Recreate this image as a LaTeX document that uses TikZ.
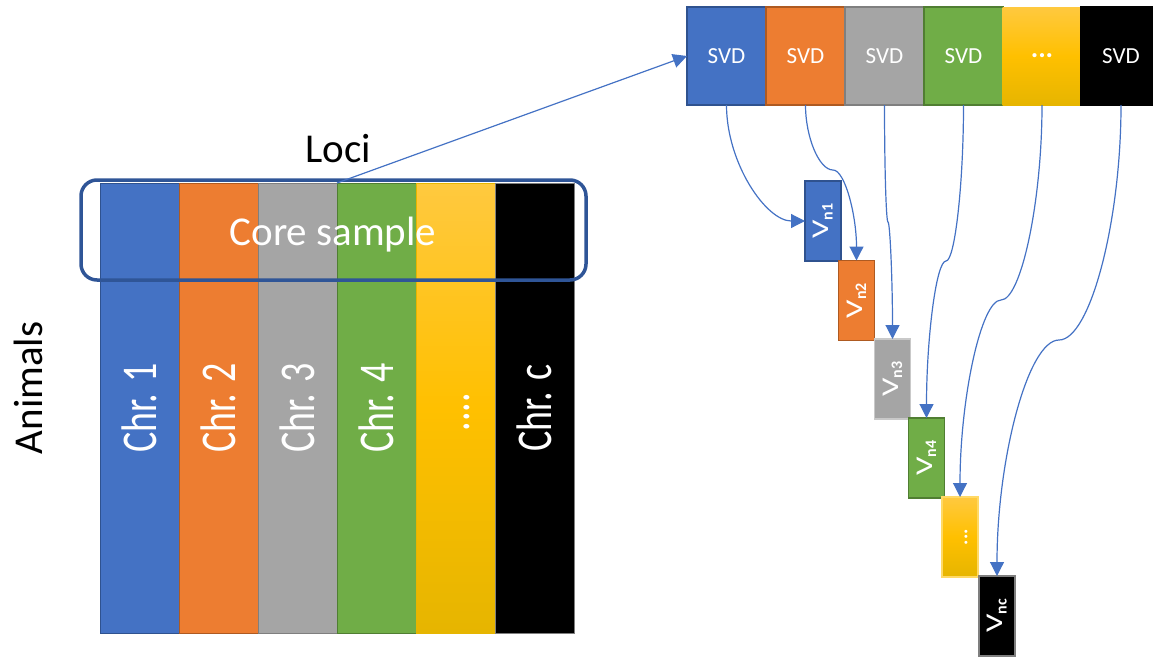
\documentclass[tikz,border=0pt]{standalone}
\usepackage{fontspec}
\setmainfont{Carlito}
\usetikzlibrary{arrows.meta}
\definecolor{cblue}{HTML}{4472C4}
\definecolor{cblueD}{HTML}{2F528F}
\definecolor{corange}{HTML}{ED7D31}
\definecolor{corangeD}{HTML}{AE5A21}
\definecolor{cgray}{HTML}{A5A5A5}
\definecolor{cgrayD}{HTML}{7F7F7F}
\definecolor{cgrayL}{HTML}{C9C9C9}
\definecolor{cgreen}{HTML}{70AD47}
\definecolor{cgreenD}{HTML}{507E32}
\definecolor{cgold}{HTML}{FFC000}
\definecolor{cgoldT}{HTML}{FFC93F}
\definecolor{cgoldB}{HTML}{E6B500}
\definecolor{cgoldL}{HTML}{FFD966}
\definecolor{coreblue}{HTML}{2F5597}
\definecolor{arrblue}{HTML}{4472C4}
\begin{document}
\begin{tikzpicture}[x=1pt,y=-1pt,
  box/.style={draw, line width=1pt, inner sep=0pt, outer sep=0pt, rectangle},
  col/.style={box, minimum width=79pt, minimum height=450pt},
  goldfill/.style={top color=cgoldT, bottom color=cgoldB, middle color=cgold},
  svd/.style={box, line width=2.5pt, minimum width=79pt, minimum height=98pt, text=white, font=\fontsize{23}{23}\selectfont},
  vbox/.style={box, line width=1.5pt, minimum width=36pt, minimum height=80pt},
  vlab/.style={rotate=90, text=white, inner sep=0pt, font=\fontsize{24}{24}\selectfont},
  chr/.style={rotate=90, anchor=base, text=white, inner sep=0pt, font=\fontsize{40}{40}\selectfont},
  big/.style={inner sep=0pt, font=\fontsize{41}{41}\selectfont},
  arr/.style={draw=arrblue, line width=1.2pt, -{Triangle[length=14pt,width=14pt]}}
]
\useasboundingbox (0,0) rectangle (1153,659);

% columns
\node[col, fill=cblue, draw=cblueD] (c1) at (139.5,408) {};
\node[col, fill=corange, draw=corangeD] (c2) at (218.5,408) {};
\node[col, fill=cgray, draw=cgrayD] (c3) at (297.5,408) {};
\node[col, fill=cgreen, draw=cgreenD] (c4) at (376.5,408) {};
\node[col, goldfill, draw=cgoldB] (c5) at (455.5,408) {};
\node[col, fill=black, draw=cgrayD] (c6) at (534.5,408) {};

\node[chr] (l1) at (156.5,408) {\scalebox{0.95}[1.25]{Chr. 1}};
\node[chr] (l2) at (235.5,408) {\scalebox{0.95}[1.25]{Chr. 2}};
\node[chr] (l3) at (314.5,408) {\scalebox{0.95}[1.25]{Chr. 3}};
\node[chr] (l4) at (393.5,408) {\scalebox{0.95}[1.25]{Chr. 4}};
\node[chr] (l5) at (469,412) {\scalebox{0.95}[1.25]{....}};
\node[chr] (l6) at (551,408) {\scalebox{0.95}[1.25]{Chr. c}};

% core sample
\node[draw=coreblue, line width=3.5pt, rounded corners=16pt, inner sep=0pt, minimum width=505pt, minimum height=100pt] (core) at (333.5,230) {};
\node[big, anchor=base, text=white] (coretxt) at (333,245) {Core sample};
\node[big, anchor=base] (loci) at (338,162) {Loci};
\node[big, rotate=90, anchor=base] (animals) at (42,388) {Animals};

% SVD row
\node[svd, fill=cblue, draw=cblueD] (s1) at (726.5,56) {SVD};
\node[svd, fill=corange, draw=corangeD] (s2) at (805.5,56) {SVD};
\node[svd, fill=cgray, draw=cgrayD] (s3) at (884.5,56) {SVD};
\node[svd, fill=cgreen, draw=cgreenD] (s4) at (963.5,56) {SVD};
\node[svd, goldfill, draw=none, font=\fontsize{28}{28}\bfseries] (s5) at (1042,56) {...};
\node[svd, fill=black, draw=black] (s6) at (1121,56) {SVD};

% V boxes
\node[vbox, fill=cblue, draw=cblueD] (v1) at (823,221) {};
\node[vbox, fill=corange, draw=corangeD] (v2) at (856.5,300.5) {};
\node[vbox, fill=cgray, draw=cgrayL] (v3) at (892.5,379) {};
\node[vbox, fill=cgreen, draw=cgreenD] (v4) at (926.5,458) {};
\node[vbox, goldfill, draw=cgoldL] (v5) at (960,537) {};
\node[vbox, fill=black, draw=cgrayD] (v6) at (997,616) {};

\node[vlab] (v1l) at (v1) {\scalebox{1.35}[1]{V}\raisebox{-4pt}{\fontsize{16}{16}\bfseries n1}};
\node[vlab] (v2l) at (v2) {\scalebox{1.35}[1]{V}\raisebox{-4pt}{\fontsize{16}{16}\bfseries n2}};
\node[vlab] (v3l) at (v3) {\scalebox{1.35}[1]{V}\raisebox{-4pt}{\fontsize{16}{16}\bfseries n3}};
\node[vlab] (v4l) at (v4) {\scalebox{1.35}[1]{V}\raisebox{-4pt}{\fontsize{16}{16}\bfseries n4}};
\node[vlab, font=\fontsize{20}{20}\bfseries] (v5l) at ([xshift=6pt]v5.center) {...};
\node[vlab] (v6l) at (v6) {\scalebox{1.35}[1]{V}\raisebox{-4pt}{\fontsize{16}{16}\bfseries nc}};

% connectors
\coordinate (m2) at (833,170);
\coordinate (m3) at (888,222);
\coordinate (m4) at (946,261);
\coordinate (m5) at (1001,300);
\coordinate (m6) at (1059,340);

\draw[arr] (c4.north west) -- (s1.west);
\draw[arr] (s1.south) .. controls +(0,58) and +(-39,0) .. (v1.west);
\draw[arr] (s2.south) .. controls +(0,32) and +(-14,0) .. (m2) .. controls +(12,0) and +(0,-45) .. (v2.north);
\draw[arr] (s3.south) .. controls +(0,58) and +(-2,0) .. (m3) .. controls +(2,0) and +(0,-58) .. (v3.north);
\draw[arr] (s4.south) .. controls +(0,78) and +(9,0) .. (m4) .. controls +(-10,0) and +(0,-78) .. (v4.north);
\draw[arr] (s5.south) .. controls +(0,97) and +(20,0) .. (m5) .. controls +(-20,0) and +(0,-98) .. (v5.north);
\draw[arr] (s6.south) .. controls +(0,117) and +(31,0) .. (m6) .. controls +(-31,0) and +(0,-117) .. (v6.north);
\end{tikzpicture}
\end{document}
